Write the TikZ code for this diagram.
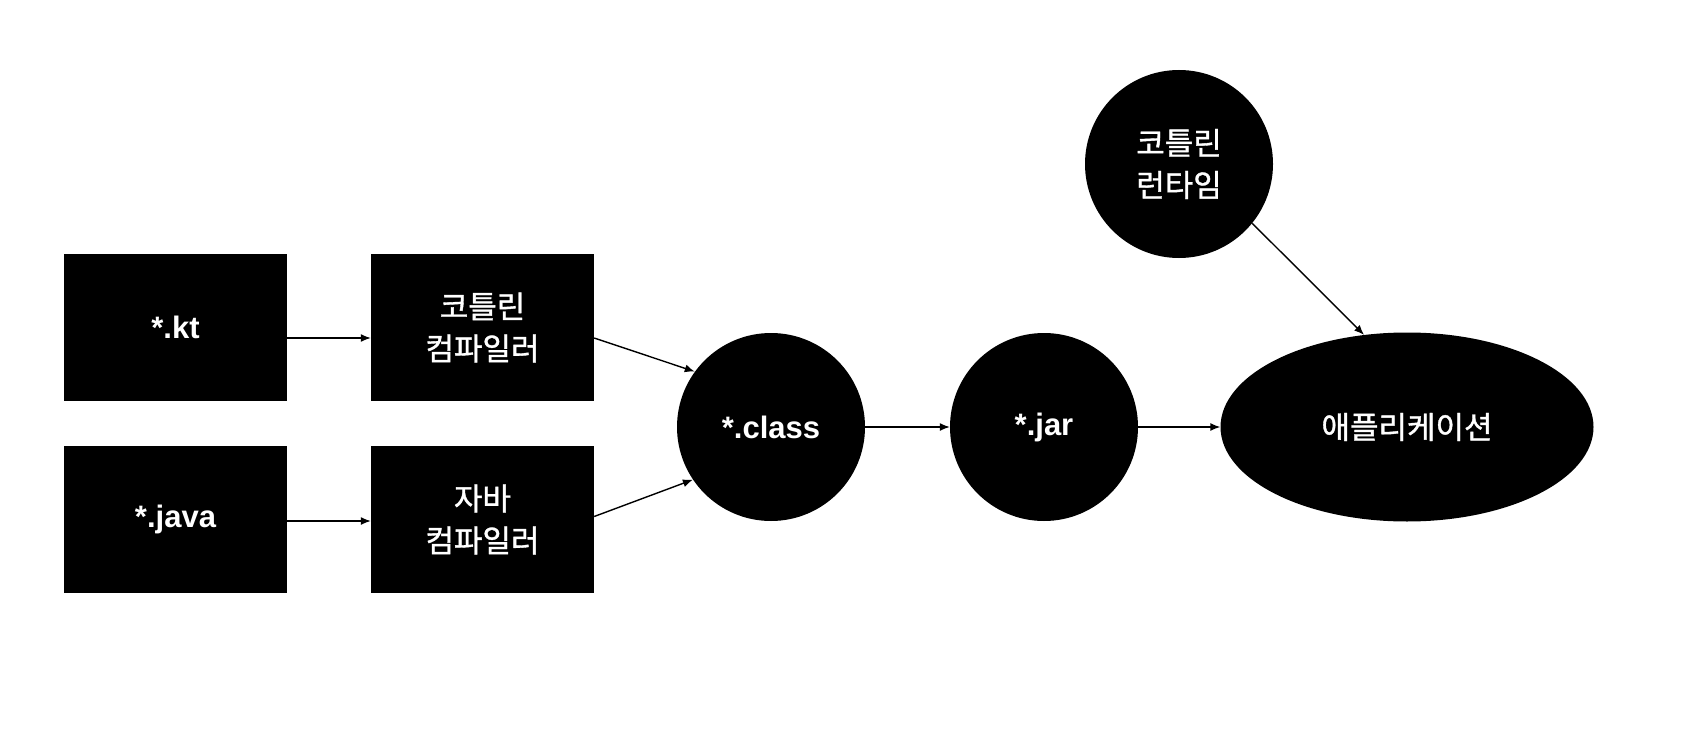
\documentclass[tikz,border=0pt]{standalone}
\usepackage{fontspec}
\setmainfont{Liberation Sans}
\newfontfamily\kr[FakeBold=1.2]{Noto Sans CJK KR}
\usetikzlibrary{positioning,arrows.meta,shapes.geometric}

\begin{document}
\begin{tikzpicture}[x=1pt, y=-1pt,
    blok/.style={fill=black, text=white, minimum width=223pt, minimum height=147pt,
                 align=center, font=\fontsize{31}{42}\selectfont},
    bol/.style={circle, fill=black, text=white, minimum size=188pt, inner sep=0pt,
                align=center, font=\fontsize{31}{42}\selectfont},
    pijl/.style={-{Latex[length=10pt,width=8pt]}, line width=1.4pt}]
  \useasboundingbox[fill=white] (0,0) rectangle (1694,738);
  \node[blok] (kt) at (175.5,327.5) {\bfseries *.kt};
  \node[blok] (kc) at (482.5,327.5) {\kr 코틀린\\\kr 컴파일러};
  \node[blok] (java) at (175.5,519.5) {\bfseries *.java};
  \node[blok] (jc) at (482.5,519.5) {\kr 자바\\\kr 컴파일러};
  \node[bol] (class) at (771,427) {\bfseries *.class};
  \node[bol] (jar) at (1044,427) {\bfseries *.jar};
  \node[bol] (rt) at (1179,164) {\kr 코틀린\\\kr 런타임};
  \node[ellipse, fill=black, text=white, minimum width=373pt, minimum height=189pt,
        inner sep=0pt, font=\fontsize{31}{42}\selectfont\kr] (app) at (1407,427) {애플리케이션};
  \draw[pijl] ([yshift=-10.5pt]kt.east) -- ([yshift=-10.5pt]kc.west);
  \draw[pijl] ([yshift=-1.5pt]java.east) -- ([yshift=-1.5pt]jc.west);
  \draw[pijl] ([yshift=-10.5pt]kc.east) -- (class.144);
  \draw[pijl] ([yshift=3pt]jc.east) -- (class.214);
  \draw[pijl] (class) -- (jar);
  \draw[pijl] (jar) -- (app);
  \draw[pijl] (rt.321) -- (app.115);
\end{tikzpicture}
\end{document}
